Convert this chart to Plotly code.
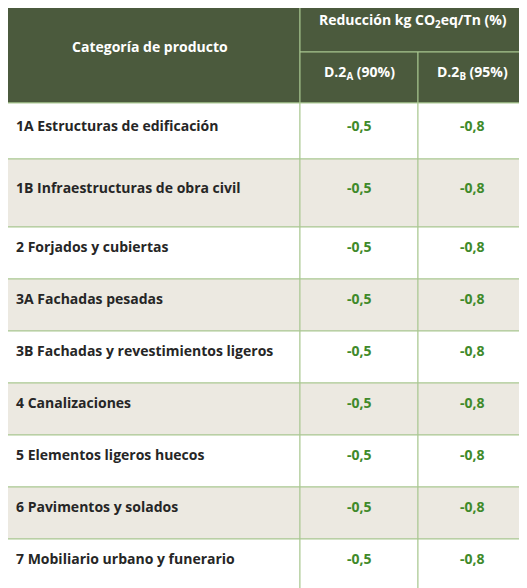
import plotly.graph_objects as go

categories = [
    "1A Estructuras de edificación",
    "1B Infraestructuras de obra civil",
    "2 Forjados y cubiertas",
    "3A Fachadas pesadas",
    "3B Fachadas y revestimientos ligeros",
    "4 Canalizaciones",
    "5 Elementos ligeros huecos",
    "6 Pavimentos y solados",
    "7 Mobiliario urbano y funerario",
]
d2a = ["-0,5"] * 9
d2b = ["-0,8"] * 9
header_main = "Categoría de producto"
header_group = "Reducción kg CO<sub>2</sub>eq/Tn (%)"
header_cols = ["D.2<sub>A</sub> (90%)", "D.2<sub>B</sub> (95%)"]

W, H = 527, 588
PAD = 8  # page body margin
col_x = [0, 300, 418, 526]
row_y = [103, 159, 227, 279, 331, 383, 435, 487, 539, 588]
text_off = [22, 28, 19, 19, 19, 19, 19, 19, 19]

HEAD = "#4b5a3d"
ALT = "#ece9e1"
LINE = "#a9c790"
GREEN = "#3f8a2a"
FONT = "Open Sans"
FS = 14

shapes, ann = [], []


def rect(x0, y0, x1, y1, fill):
    shapes.append(dict(type="rect", x0=x0, x1=x1, y0=y0, y1=y1, fillcolor=fill,
                       line=dict(color=LINE, width=1), layer="below"))


# header
rect(-2, -2, col_x[1], row_y[0], HEAD)
rect(col_x[1], -2, col_x[3], 52, HEAD)
rect(col_x[1], 52, col_x[2], row_y[0], HEAD)
rect(col_x[2], 52, col_x[3], row_y[0], HEAD)
hf = dict(family=FONT, size=FS, color="white")
ann.append(dict(x=150, y=46, text="<b>%s</b>" % header_main, font=hf))
ann.append(dict(x=413, y=20, text="<b>%s</b>" % header_group, font=hf))
ann.append(dict(x=359, y=72, text="<b>%s</b>" % header_cols[0], font=hf))
ann.append(dict(x=472, y=72, text="<b>%s</b>" % header_cols[1], font=hf))

for i, cat in enumerate(categories):
    y0, y1 = row_y[i], row_y[i + 1]
    fill = "white" if i % 2 == 0 else ALT
    for c in range(3):
        rect(col_x[c] if c else -2, y0, col_x[c + 1], y1 + (2 if i == 8 else 0), fill)
    ty = y0 + text_off[i]
    ann.append(dict(x=14, y=ty, text="<b>%s</b>" % cat, xanchor="left",
                    font=dict(family=FONT, size=FS, color="#262626")))
    ann.append(dict(x=359, y=ty, text="<b>%s</b>" % d2a[i],
                    font=dict(family=FONT, size=FS, color=GREEN)))
    ann.append(dict(x=472, y=ty, text="<b>%s</b>" % d2b[i],
                    font=dict(family=FONT, size=FS, color=GREEN)))

for a in ann:
    a.setdefault("xanchor", "center")
    a.update(yanchor="middle", showarrow=False, xref="x", yref="y")

fig = go.Figure()
fig.update_layout(
    width=W - PAD, height=H - PAD, margin=dict(l=0, r=0, t=0, b=0),
    paper_bgcolor="white", plot_bgcolor="white",
    xaxis=dict(range=[PAD, W], visible=False, fixedrange=True),
    yaxis=dict(range=[H, PAD], visible=False, fixedrange=True),
    shapes=shapes, annotations=ann, showlegend=False,
)
fig.write_html("out.html", config={"displayModeBar": False})
